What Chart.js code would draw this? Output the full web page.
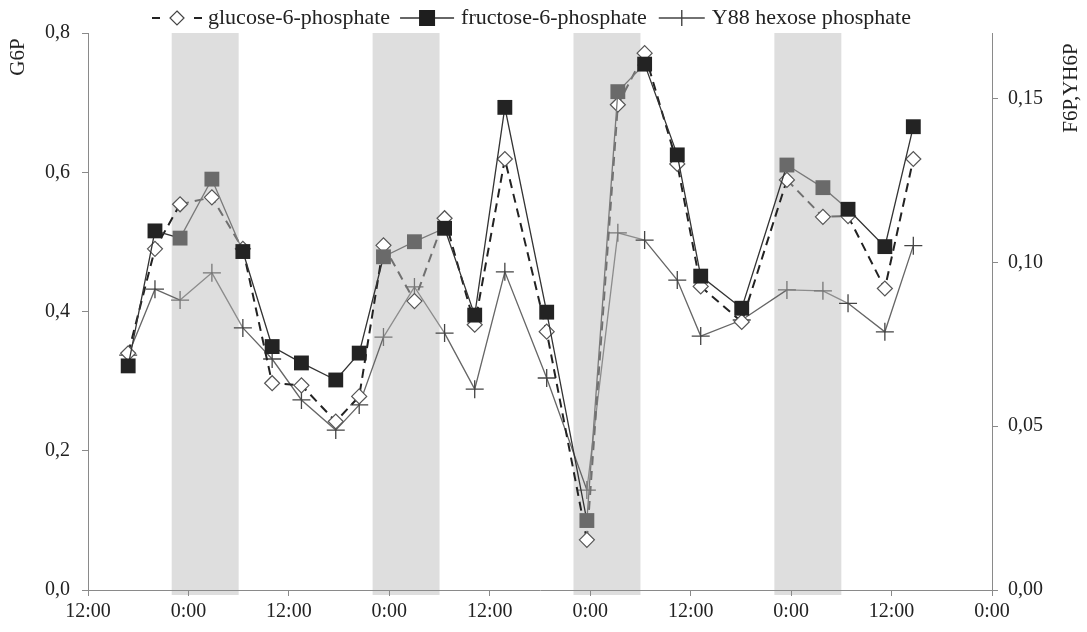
<!DOCTYPE html>
<html>
<head>
<meta charset="utf-8">
<script src="https://cdn.jsdelivr.net/npm/chart.js@4.4.1/dist/chart.umd.min.js"></script>
<style>
  html, body { margin: 0; padding: 0; background: #fff; }
</style>
</head>
<body>
<canvas id="chart" width="1087" height="632"></canvas>
<script>
// sampling times, hours after 12:00 of day 0
const sampleHours = [4.8, 8, 11, 14.8, 18.5, 22, 25.5, 29.6, 32.4, 35.3, 39, 42.6, 46.2,
                     49.8, 54.8, 59.6, 63.3, 66.5, 70.4, 73.2, 78.1, 83.5, 87.8, 90.8, 95.2, 98.6];
const g6p = [0.340, 0.490, 0.554, 0.564, 0.490, 0.297, 0.294, 0.242, 0.278, 0.495, 0.415, 0.534, 0.381,
             0.619, 0.371, 0.072, 0.697, 0.771, 0.612, 0.436, 0.385, 0.589, 0.536, 0.537, 0.433, 0.619];
const f6p = [0.0684, 0.1096, 0.1074, 0.1254, 0.1033, 0.0743, 0.0693, 0.0641, 0.0723, 0.1017, 0.1063, 0.1104, 0.0839,
             0.1473, 0.0848, 0.0212, 0.1521, 0.1605, 0.1328, 0.0958, 0.0860, 0.1297, 0.1228, 0.1162, 0.1048, 0.1414];
const y88 = [0.0717, 0.0918, 0.0885, 0.0968, 0.0800, 0.0705, 0.0580, 0.0488, 0.0565, 0.0772, 0.0925, 0.0784, 0.0613,
             0.0971, 0.0647, 0.0305, 0.1090, 0.1068, 0.0946, 0.0775, 0.0824, 0.0916, 0.0913, 0.0875, 0.0788, 0.1051];
const seriesNames = ['glucose-6-phosphate', 'fructose-6-phosphate', 'Y88 hexose phosphate'];

// dark periods (hours)
const nightFrom = [10, 34, 58, 82];
const nightTo = [18, 42, 66, 90];

const xTicks = [0, 12, 24, 36, 48, 60, 72, 84, 96, 108];
const xTickLabels = ['12:00', '0:00', '12:00', '0:00', '12:00', '0:00', '12:00', '0:00', '12:00', '0:00'];
const leftTicks = [0, 0.2, 0.4, 0.6, 0.8];
const rightTicks = [0, 0.05, 0.10, 0.15];

const FONT = '"Liberation Serif", "Times New Roman", serif';
const AXIS = '#8a8a8a';

const toPoints = vals => vals.map((v, i) => ({ x: sampleHours[i], y: v }));
const inNight = h => nightFrom.some((f, i) => h >= f && h <= nightTo[i]);
// segments lying in a dark period are drawn lighter, as in the scanned figure
const segNight = (dark, light) => c => inNight((c.p0.parsed.x + c.p1.parsed.x) / 2) ? light : dark;

const nightBands = {
  id: 'nightBands',
  beforeDraw(chart) {
    const { ctx, chartArea, scales } = chart;
    ctx.save();
    ctx.fillStyle = '#dedede';
    nightFrom.forEach((from, i) => {
      const x1 = scales.x.getPixelForValue(from);
      const x2 = scales.x.getPixelForValue(nightTo[i]);
      ctx.fillRect(x1, chartArea.top, x2 - x1, chartArea.bottom - chartArea.top + 5);
    });
    ctx.restore();
  }
};

function diamond(ctx, x, y, r) {
  ctx.beginPath();
  ctx.moveTo(x, y - r); ctx.lineTo(x + r, y); ctx.lineTo(x, y + r); ctx.lineTo(x - r, y);
  ctx.closePath();
  ctx.fillStyle = '#fff'; ctx.fill();
  ctx.lineWidth = 1.2; ctx.strokeStyle = '#444'; ctx.stroke();
}

const legendAndTitles = {
  id: 'legendAndTitles',
  afterDraw(chart) {
    const ctx = chart.ctx;
    const y = 18;
    ctx.save();
    ctx.font = '22px ' + FONT;
    ctx.textBaseline = 'middle';
    let x = 152;

    // glucose: dashed line + diamond
    ctx.strokeStyle = '#222'; ctx.lineWidth = 2;
    ctx.beginPath();
    ctx.moveTo(x, y); ctx.lineTo(x + 8, y);
    ctx.moveTo(x + 42, y); ctx.lineTo(x + 50, y);
    ctx.stroke();
    diamond(ctx, x + 25, y, 7);
    x += 56;
    ctx.fillStyle = '#222';
    ctx.fillText(seriesNames[0], x, y);
    x += ctx.measureText(seriesNames[0]).width + 10;

    // fructose: line + square
    ctx.strokeStyle = '#333'; ctx.lineWidth = 1.5;
    ctx.beginPath(); ctx.moveTo(x, y); ctx.lineTo(x + 54, y); ctx.stroke();
    ctx.fillStyle = '#1e1e1e';
    ctx.fillRect(x + 27 - 8, y - 8, 16, 16);
    x += 61;
    ctx.fillStyle = '#222';
    ctx.fillText(seriesNames[1], x, y);
    x += ctx.measureText(seriesNames[1]).width + 12;

    // Y88: line + cross
    ctx.strokeStyle = '#444'; ctx.lineWidth = 1.4;
    ctx.beginPath();
    ctx.moveTo(x, y); ctx.lineTo(x + 46, y);
    ctx.moveTo(x + 23, y - 8); ctx.lineTo(x + 23, y + 8);
    ctx.stroke();
    x += 53;
    ctx.fillStyle = '#222';
    ctx.fillText(seriesNames[2], x, y);

    // axis titles
    ctx.font = '21px ' + FONT;
    ctx.textAlign = 'center';
    ctx.save();
    ctx.translate(18, 57);
    ctx.rotate(-Math.PI / 2);
    ctx.fillText('G6P', 0, 0);
    ctx.restore();
    ctx.save();
    ctx.translate(1071, 88);
    ctx.rotate(-Math.PI / 2);
    ctx.fillText('F6P,YH6P', 0, 0);
    ctx.restore();
    ctx.restore();
  }
};

const tickFont = { family: FONT, size: 20 };

new Chart(document.getElementById('chart'), {
  type: 'line',
  data: {
    datasets: [
      {
        label: seriesNames[1],
        data: toPoints(f6p),
        yAxisID: 'y1',
        order: 0,
        borderColor: '#333',
        borderWidth: 1.3,
        segment: { borderColor: segNight('#333', '#7a7a7a') },
        pointStyle: 'rect',
        pointRadius: 10.5,
        pointBorderWidth: 0,
        pointBackgroundColor: ctx => inNight(ctx.raw.x) ? '#6a6a6a' : '#232323',
        pointBorderColor: 'transparent'
      },
      {
        label: seriesNames[0],
        data: toPoints(g6p),
        yAxisID: 'y',
        order: 1,
        borderColor: '#222',
        borderWidth: 2,
        borderDash: [9, 6],
        segment: { borderColor: segNight('#222', '#707070') },
        pointStyle: 'rectRot',
        pointRadius: 7.5,
        pointBorderWidth: 1.2,
        pointBackgroundColor: '#fff',
        pointBorderColor: '#555'
      },
      {
        label: seriesNames[2],
        data: toPoints(y88),
        yAxisID: 'y1',
        order: 2,
        borderColor: '#666',
        borderWidth: 1.3,
        segment: { borderColor: segNight('#666', '#8c8c8c') },
        pointStyle: 'cross',
        pointRadius: 9,
        pointBorderWidth: 1.3,
        pointBorderColor: ctx => inNight(ctx.raw.x) ? '#777' : '#444'
      }
    ]
  },
  options: {
    responsive: false,
    animation: false,
    events: [],
    devicePixelRatio: 1,
    layout: { padding: { top: 33, left: 0, right: 0, bottom: 0 } },
    plugins: { legend: { display: false }, tooltip: { enabled: false } },
    scales: {
      x: {
        type: 'linear',
        min: 0,
        max: 108,
        afterBuildTicks: s => { s.ticks = xTicks.map(v => ({ value: v })); },
        afterFit: s => { s.height = 42; },
        ticks: {
          autoSkip: false,
          maxRotation: 0,
          padding: 4,
          color: '#222',
          font: tickFont,
          callback: (v, i) => xTickLabels[i]
        },
        grid: { drawOnChartArea: false, tickLength: 6, color: AXIS },
        border: { color: AXIS }
      },
      y: {
        position: 'left',
        min: 0,
        max: 0.8,
        afterBuildTicks: s => { s.ticks = leftTicks.map(v => ({ value: v })); },
        afterFit: s => { s.width = 88; },
        ticks: {
          padding: 12,
          color: '#222',
          font: tickFont,
          callback: v => v.toFixed(1).replace('.', ',')
        },
        grid: { drawOnChartArea: false, tickLength: 6, color: AXIS },
        border: { color: AXIS }
      },
      y1: {
        position: 'right',
        min: 0,
        max: 0.17,
        afterBuildTicks: s => { s.ticks = rightTicks.map(v => ({ value: v })); },
        afterFit: s => { s.width = 95; },
        ticks: {
          padding: 10,
          color: '#222',
          font: tickFont,
          callback: v => v.toFixed(2).replace('.', ',')
        },
        grid: { drawOnChartArea: false, tickLength: 6, color: AXIS },
        border: { color: AXIS }
      }
    }
  },
  plugins: [nightBands, legendAndTitles]
});
</script>
</body>
</html>
